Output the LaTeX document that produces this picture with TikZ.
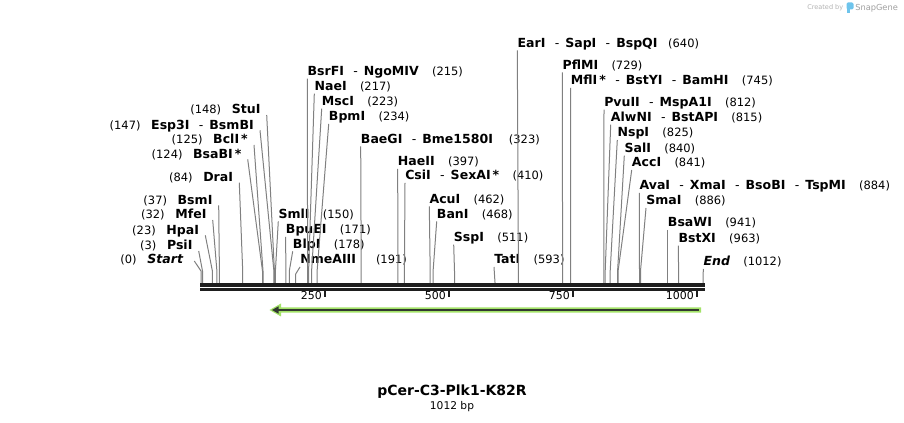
\documentclass[tikz,border=0pt]{standalone}
\usepackage{fontspec}
\setmainfont{DejaVu Sans}
\usetikzlibrary{calc}

\definecolor{cutgray}{RGB}{128,128,128}
\definecolor{rulerdark}{RGB}{30,30,30}
\definecolor{featgreen}{RGB}{163,226,104}
\definecolor{featline}{RGB}{50,56,48}
\definecolor{snapblue}{RGB}{110,196,236}

\newcommand{\enzfont}{\fontsize{9.4}{11}\selectfont\bfseries}
\newcommand{\sitenum}[1]{{\fontsize{8.6}{10}\selectfont\mdseries(#1)}}
\newcommand{\numgap}{\hspace{10pt}}
\newcommand{\numgapL}{\hspace{8pt}}
\newcommand{\enzsep}{\hspace{7pt}{\mdseries -}\hspace{4.5pt}}
\newcommand{\enzstar}{\hspace{1.5pt}*}

\begin{document}
\begin{tikzpicture}[x=0.75pt,y=0.75pt,yscale=-1,xscale=1,
  enzR/.style={anchor=base west,inner sep=0pt,font=\enzfont},
  enzL/.style={anchor=base east,inner sep=0pt,font=\enzfont},
  cut/.style={draw=cutgray,line width=0.75},
  tick/.style={draw=rulerdark,line width=2}]
\useasboundingbox (0,0) rectangle (904,423);

%Cut sites on the ruler
\coordinate (s0) at (201,284);
\coordinate (s3) at (202.5,284);
\coordinate (s23) at (212.4,284);
\coordinate (s32) at (216.9,284);
\coordinate (s37) at (219.4,284);
\coordinate (s84) at (242.7,284);
\coordinate (s124) at (262.5,284);
\coordinate (s125) at (263,284);
\coordinate (s147) at (273.9,284);
\coordinate (s148) at (274.4,284);
\coordinate (s150) at (275.4,284);
\coordinate (s171) at (285.8,284);
\coordinate (s178) at (289.3,284);
\coordinate (s191) at (295.7,284);
\coordinate (s215) at (307.6,284);
\coordinate (s217) at (308.6,284);
\coordinate (s223) at (311.6,284);
\coordinate (s234) at (317.1,284);
\coordinate (s323) at (361.2,284);
\coordinate (s397) at (397.9,284);
\coordinate (s410) at (404.4,284);
\coordinate (s462) at (430.2,284);
\coordinate (s468) at (433.1,284);
\coordinate (s511) at (454.5,284);
\coordinate (s593) at (495.1,284);
\coordinate (s640) at (518.4,284);
\coordinate (s729) at (562.6,284);
\coordinate (s745) at (570.5,284);
\coordinate (s812) at (603.8,284);
\coordinate (s815) at (605.2,284);
\coordinate (s825) at (610.2,284);
\coordinate (s840) at (617.6,284);
\coordinate (s841) at (618.1,284);
\coordinate (s884) at (639.5,284);
\coordinate (s886) at (640.5,284);
\coordinate (s941) at (667.7,284);
\coordinate (s963) at (678.6,284);
\coordinate (s1012) at (703,284);

% Text Node: left labels
\node[enzL] (stui) at (260.7,114) {\sitenum{148}\numgapL StuI};
\node[enzL] (esp3i) at (254,129.3) {\sitenum{147}\numgapL Esp3I\enzsep BsmBI};
\node[enzL] (bcli) at (248,144) {\sitenum{125}\numgapL BclI\enzstar};
\node[enzL] (bsabi) at (241.7,158.3) {\sitenum{124}\numgapL BsaBI\enzstar};
\node[enzL] (drai) at (233.3,181.7) {\sitenum{84}\numgapL DraI};
\node[enzL] (bsmi) at (212.7,204.3) {\sitenum{37}\numgapL BsmI};
\node[enzL] (mfei) at (206.7,219) {\sitenum{32}\numgapL MfeI};
\node[enzL] (hpai) at (199.3,234.3) {\sitenum{23}\numgapL HpaI};
\node[enzL] (psii) at (192.7,250) {\sitenum{3}\numgapL PsiI};
\node[enzL] (startlbl) at (183.3,264) {\sitenum{0}\numgapL\itshape Start};

% Text Node: right labels
\node[enzR] (smli) at (278.3,218.3) {SmlI\numgap\sitenum{150}};
\node[enzR] (bpuei) at (285.7,234) {BpuEI\numgap\sitenum{171}};
\node[enzR] (blpi) at (292.7,248.3) {BlpI\numgap\sitenum{178}};
\node[enzR] (nmeaiii) at (300,264) {NmeAIII\hspace{15pt}\sitenum{191}};
\node[enzR] (bsrfi) at (307.3,75.7) {BsrFI\enzsep NgoMIV\numgap\sitenum{215}};
\node[enzR] (naei) at (314.3,90.7) {NaeI\numgap\sitenum{217}};
\node[enzR] (msci) at (321.7,105.7) {MscI\numgap\sitenum{223}};
\node[enzR] (bpmi) at (328.7,121) {BpmI\numgap\sitenum{234}};
\node[enzR] (baegi) at (360.7,143.3) {BaeGI\enzsep Bme1580I\hspace{12pt}\sitenum{323}};
\node[enzR] (haeii) at (397.7,166) {HaeII\numgap\sitenum{397}};
\node[enzR] (csii) at (405,180) {CsiI\enzsep SexAI\enzstar\numgap\sitenum{410}};
\node[enzR] (acui) at (429.3,203.3) {AcuI\numgap\sitenum{462}};
\node[enzR] (bani) at (436.7,218.3) {BanI\numgap\sitenum{468}};
\node[enzR] (sspi) at (453.7,241.7) {SspI\numgap\sitenum{511}};
\node[enzR] (tati) at (494,264) {TatI\numgap\sitenum{593}};
\node[enzR] (eari) at (517.3,47.3) {EarI\enzsep SapI\enzsep BspQI\hspace{8pt}\sitenum{640}};
\node[enzR] (pflmi) at (562.3,69.3) {PflMI\numgap\sitenum{729}};
\node[enzR] (mfli) at (570.7,85) {MflI\enzstar\enzsep BstYI\enzsep BamHI\numgap\sitenum{745}};
\node[enzR] (pvuii) at (604,106.7) {PvuII\enzsep MspA1I\numgap\sitenum{812}};
\node[enzR] (alwni) at (610.7,121.7) {AlwNI\enzsep BstAPI\numgap\sitenum{815}};
\node[enzR] (nspi) at (617.3,137) {NspI\numgap\sitenum{825}};
\node[enzR] (sali) at (624.3,152.7) {SalI\numgap\sitenum{840}};
\node[enzR] (acci) at (631.7,167) {AccI\numgap\sitenum{841}};
\node[enzR] (avai) at (639.3,190) {AvaI\enzsep XmaI\enzsep BsoBI\enzsep TspMI\numgap\sitenum{884}};
\node[enzR] (smai) at (646,205) {SmaI\numgap\sitenum{886}};
\node[enzR] (bsawi) at (667.7,227) {BsaWI\numgap\sitenum{941}};
\node[enzR] (bstxi) at (678.3,242.7) {BstXI\numgap\sitenum{963}};
\node[enzR] (endlbl) at (703.3,266) {\itshape End\numgap\upshape\sitenum{1012}};

%Straight Lines: left labels to sites
\draw[cut] ($(stui.base east)+(6,1)$) -- ($(s148)+(0,-13)$) -- (s148);
\draw[cut] ($(esp3i.base east)+(6,1)$) -- ($(s147)+(0,-13)$) -- (s147);
\draw[cut] ($(bcli.base east)+(6,1)$) -- ($(s125)+(0,-13)$) -- (s125);
\draw[cut] ($(bsabi.base east)+(6,1)$) -- ($(s124)+(0,-13)$) -- (s124);
\draw[cut] ($(drai.base east)+(6,1)$) -- ($(s84)+(0,-13)$) -- (s84);
\draw[cut] ($(bsmi.base east)+(6,1)$) -- ($(s37)+(0,-13)$) -- (s37);
\draw[cut] ($(mfei.base east)+(6,1)$) -- ($(s32)+(0,-13)$) -- (s32);
\draw[cut] ($(hpai.base east)+(6,1)$) -- ($(s23)+(0,-13)$) -- (s23);
\draw[cut] ($(psii.base east)+(6,1)$) -- ($(s3)+(0,-13)$) -- (s3);
\draw[cut] ($(startlbl.base east)+(11,-3)$) -- ($(s0)+(0,-13)$) -- (s0);

%Straight Lines: right labels to sites
\draw[cut] ($(smli.base west)+(0,3)$) -- ($(s150)+(0,-13)$) -- (s150);
\draw[cut] ($(bpuei.base west)+(0,3)$) -- ($(s171)+(0,-13)$) -- (s171);
\draw[cut] ($(blpi.base west)+(0,3)$) -- ($(s178)+(0,-13)$) -- (s178);
\draw[cut] ($(nmeaiii.base west)+(0,3)$) -- ($(s191)+(0,-10)$) -- (s191);
\draw[cut] ($(bsrfi.base west)+(0,3)$) -- ($(s215)+(0,-13)$) -- (s215);
\draw[cut] ($(naei.base west)+(0,3)$) -- ($(s217)+(0,-13)$) -- (s217);
\draw[cut] ($(msci.base west)+(0,3)$) -- ($(s223)+(0,-13)$) -- (s223);
\draw[cut] ($(bpmi.base west)+(0,3)$) -- ($(s234)+(0,-13)$) -- (s234);
\draw[cut] ($(baegi.base west)+(0,3)$) -- ($(s323)+(0,-13)$) -- (s323);
\draw[cut] ($(haeii.base west)+(0,3)$) -- ($(s397)+(0,-13)$) -- (s397);
\draw[cut] ($(csii.base west)+(0,3)$) -- ($(s410)+(0,-13)$) -- (s410);
\draw[cut] ($(acui.base west)+(0,3)$) -- ($(s462)+(0,-13)$) -- (s462);
\draw[cut] ($(bani.base west)+(0,3)$) -- ($(s468)+(0,-13)$) -- (s468);
\draw[cut] ($(sspi.base west)+(0,3)$) -- ($(s511)+(0,-13)$) -- (s511);
\draw[cut] ($(tati.base west)+(0,3)$) -- (s593);
\draw[cut] ($(eari.base west)+(0,3)$) -- ($(s640)+(0,-13)$) -- (s640);
\draw[cut] ($(pflmi.base west)+(0,3)$) -- ($(s729)+(0,-13)$) -- (s729);
\draw[cut] ($(mfli.base west)+(0,3)$) -- ($(s745)+(0,-13)$) -- (s745);
\draw[cut] ($(pvuii.base west)+(0,3)$) -- ($(s812)+(0,-13)$) -- (s812);
\draw[cut] ($(alwni.base west)+(0,3)$) -- ($(s815)+(0,-13)$) -- (s815);
\draw[cut] ($(nspi.base west)+(0,3)$) -- ($(s825)+(0,-13)$) -- (s825);
\draw[cut] ($(sali.base west)+(0,3)$) -- ($(s840)+(0,-13)$) -- (s840);
\draw[cut] ($(acci.base west)+(0,3)$) -- ($(s841)+(0,-13)$) -- (s841);
\draw[cut] ($(avai.base west)+(0,3)$) -- ($(s884)+(0,-13)$) -- (s884);
\draw[cut] ($(smai.base west)+(0,3)$) -- ($(s886)+(0,-13)$) -- (s886);
\draw[cut] ($(bsawi.base west)+(0,3)$) -- ($(s941)+(0,-13)$) -- (s941);
\draw[cut] ($(bstxi.base west)+(0,3)$) -- ($(s963)+(0,-13)$) -- (s963);
\draw[cut] ($(endlbl.base west)+(0,3)$) -- (s1012);

%Shape: ruler
\draw[rulerdark,line width=2.5] (200,285) -- (705,285);
\draw[rulerdark,line width=2] (200,289.5) -- (705,289.5);
\draw[tick] (325,290.5) -- (325,297.5);
\draw[tick] (449,290.5) -- (449,297.5);
\draw[tick] (573,290.5) -- (573,297.5);
\draw[tick] (697,290.5) -- (697,297.5);

% Text Node: ruler numbers
\node[anchor=base east,inner sep=0pt,font=\fontsize{8.2}{10}\selectfont] (t250) at (322,300) {250};
\node[anchor=base east,inner sep=0pt,font=\fontsize{8.2}{10}\selectfont] (t500) at (446,300) {500};
\node[anchor=base east,inner sep=0pt,font=\fontsize{8.2}{10}\selectfont] (t750) at (570,300) {750};
\node[anchor=base east,inner sep=0pt,font=\fontsize{8.2}{10}\selectfont] (t1000) at (694,300) {1000};

%Shape: feature arrow
\fill[featgreen] (701,307.3) -- (281,307.3) -- (281,303.5) -- (269.5,310) -- (281,316.5) -- (281,312.7) -- (701,312.7) -- cycle;
\draw[featline,line width=1.7] (699,310) -- (277,310);
\fill[featline] (278.5,306.3) -- (272,310) -- (278.5,313.7) -- cycle;

% Text Node: title
\node[font=\fontsize{10.5}{12}\selectfont\bfseries,inner sep=0pt] (title) at (452,391.5) {pCer-C3-Plk1-K82R};
\node[font=\fontsize{8}{10}\selectfont,inner sep=0pt] (length) at (452,407) {1012 bp};

% Text Node: logo
\node[anchor=base east,inner sep=0pt,font=\fontsize{4.9}{6}\selectfont,text=gray!60] (created) at (843.5,10) {Created by};
\fill[snapblue,rounded corners=1] (846.5,2.5) rectangle (853.5,9.5);
\fill[snapblue] (846.5,5) rectangle (849.5,13.5);
\node[anchor=base west,inner sep=0pt,font=\fontsize{6.2}{7}\selectfont,text=gray!75] (snapgene) at (855,10.5) {SnapGene};
\end{tikzpicture}
\end{document}
